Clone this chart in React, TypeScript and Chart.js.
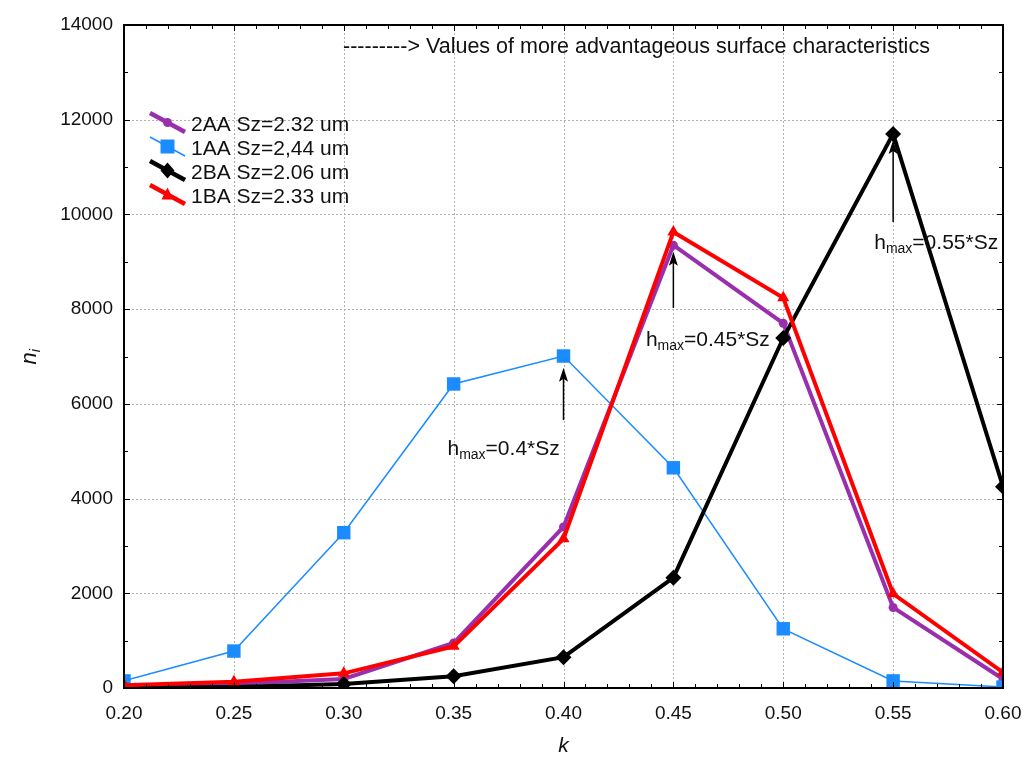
import React, { useEffect, useRef } from 'react';
import { Chart, registerables } from 'chart.js';

Chart.register(...registerables);

// ---- data ----
const kValues = [0.2, 0.25, 0.3, 0.35, 0.4, 0.45, 0.5, 0.55, 0.6];
const s2AA = [50, 90, 190, 950, 3400, 9350, 7700, 1700, 190];
const s1AA = [150, 780, 3280, 6420, 7010, 4650, 1250, 150, 20];
const s2BA = [0, 20, 85, 250, 650, 2330, 7390, 11700, 4250];
const s1BA = [60, 130, 310, 880, 3150, 9630, 8240, 1990, 330];
const seriesLabels = ['2AA Sz=2.32 um', '1AA Sz=2,44 um', '2BA Sz=2.06 um', '1BA Sz=2.33 um'];

const xMin = 0.2, xMax = 0.6, xStep = 0.05, xMinor = 0.01;
const yMin = 0, yMax = 14000, yStep = 2000, yMinor = 1000;

// annotation arrows (data units)
const arrowK = [0.4, 0.45, 0.55];
const arrowTip = [6760, 9210, 11570];
const arrowTail = [5660, 8025, 9840];
const noteK = [0.3472, 0.4375, 0.5414];
const noteN = [5050, 7350, 9400];
const noteRest = ['=0.4*Sz', '=0.45*Sz', '=0.55*Sz'];
const topNote = '---------> Values of more advantageous surface characteristics';

// ---- styles ----
const colors = ['#9a2fae', '#1a8cff', '#000000', '#ff0000'];
const widths = [4, 1.5, 4, 4];
const FONT = '"Liberation Sans", Arial, sans-serif';

function drawMarker(ctx: CanvasRenderingContext2D, idx: number, x: number, y: number) {
  ctx.save();
  ctx.fillStyle = colors[idx];
  ctx.beginPath();
  if (idx === 0) {
    ctx.arc(x, y, 4.5, 0, Math.PI * 2);
  } else if (idx === 1) {
    ctx.rect(x - 7, y - 7, 14, 14);
  } else if (idx === 2) {
    ctx.moveTo(x, y - 8); ctx.lineTo(x + 7, y); ctx.lineTo(x, y + 8); ctx.lineTo(x - 7, y); ctx.closePath();
  } else {
    ctx.moveTo(x, y - 7); ctx.lineTo(x + 6, y + 5); ctx.lineTo(x - 6, y + 5); ctx.closePath();
  }
  ctx.fill();
  ctx.restore();
}

const decorPlugin = {
  id: 'decor',
  beforeDatasetsDraw(chart: any) {
    const { ctx, chartArea: a, scales } = chart;
    const xs = scales.x, ys = scales.y;
    ctx.save();
    ctx.strokeStyle = '#b0b0b0';
    ctx.lineWidth = 1;
    ctx.setLineDash([2, 2]);
    for (let v = xMin + xStep; v < xMax - 1e-9; v += xStep) {
      const px = Math.round(xs.getPixelForValue(v)) + 0.5;
      ctx.beginPath(); ctx.moveTo(px, a.top); ctx.lineTo(px, a.bottom); ctx.stroke();
    }
    for (let v = yMin + yStep; v < yMax - 1e-9; v += yStep) {
      const py = Math.round(ys.getPixelForValue(v)) + 0.5;
      ctx.beginPath(); ctx.moveTo(a.left, py); ctx.lineTo(a.right, py); ctx.stroke();
    }
    ctx.restore();
  },
  afterDatasetsDraw(chart: any) {
    const { ctx, chartArea: a, scales } = chart;
    const xs = scales.x, ys = scales.y;
    ctx.save();
    // frame
    ctx.strokeStyle = '#000';
    ctx.lineWidth = 2;
    ctx.strokeRect(a.left, a.top, a.right - a.left, a.bottom - a.top);
    // inward ticks
    ctx.lineWidth = 1;
    const nx = Math.round((xMax - xMin) / xMinor);
    for (let i = 0; i <= nx; i++) {
      const v = xMin + i * xMinor;
      const major = i % 5 === 0;
      const len = major ? 6 : 4;
      const px = Math.round(xs.getPixelForValue(v)) + 0.5;
      ctx.beginPath();
      ctx.moveTo(px, a.bottom); ctx.lineTo(px, a.bottom - len);
      ctx.moveTo(px, a.top); ctx.lineTo(px, a.top + len);
      ctx.stroke();
    }
    const ny = Math.round((yMax - yMin) / yMinor);
    for (let i = 0; i <= ny; i++) {
      const v = yMin + i * yMinor;
      const major = i % 2 === 0;
      const len = major ? 6 : 4;
      const py = Math.round(ys.getPixelForValue(v)) + 0.5;
      ctx.beginPath();
      ctx.moveTo(a.left, py); ctx.lineTo(a.left + len, py);
      ctx.moveTo(a.right, py); ctx.lineTo(a.right - len, py);
      ctx.stroke();
    }

    // arrows
    ctx.fillStyle = '#000';
    ctx.strokeStyle = '#000';
    ctx.lineWidth = 1.5;
    for (let i = 0; i < arrowK.length; i++) {
      const px = xs.getPixelForValue(arrowK[i]);
      const tip = ys.getPixelForValue(arrowTip[i]);
      const tail = ys.getPixelForValue(arrowTail[i]);
      ctx.beginPath(); ctx.moveTo(px, tail); ctx.lineTo(px, tip + 10); ctx.stroke();
      ctx.beginPath();
      ctx.moveTo(px, tip); ctx.lineTo(px + 4.5, tip + 14); ctx.lineTo(px, tip + 11); ctx.lineTo(px - 4.5, tip + 14);
      ctx.closePath(); ctx.fill();
    }
    // notes
    ctx.textBaseline = 'middle';
    ctx.textAlign = 'left';
    for (let i = 0; i < noteK.length; i++) {
      let px = xs.getPixelForValue(noteK[i]);
      const py = ys.getPixelForValue(noteN[i]);
      ctx.font = `21px ${FONT}`;
      ctx.fillStyle = '#111';
      ctx.fillText('h', px, py);
      px += ctx.measureText('h').width;
      ctx.font = `14px ${FONT}`;
      ctx.fillText('max', px, py + 6);
      px += ctx.measureText('max').width;
      ctx.font = `21px ${FONT}`;
      ctx.fillText(noteRest[i], px, py);
    }
    // top note
    ctx.font = `21.5px ${FONT}`;
    ctx.fillText(topNote, a.left + 219, a.top + 22);

    // legend
    const lx = a.left + 26;
    for (let i = 0; i < seriesLabels.length; i++) {
      const cy = a.top + 99 + i * 24;
      ctx.strokeStyle = colors[i];
      ctx.lineWidth = widths[i] + (i === 1 ? 0 : 0.5);
      ctx.setLineDash([]);
      ctx.beginPath(); ctx.moveTo(lx, cy - 11); ctx.lineTo(lx + 35, cy + 8); ctx.stroke();
      drawMarker(ctx, i, lx + 17.5, cy - 1.5);
      ctx.fillStyle = '#111';
      ctx.font = `21px ${FONT}`;
      ctx.fillText(seriesLabels[i], lx + 41, cy + 1);
    }

    // axis titles
    ctx.save();
    ctx.translate(30, (a.top + a.bottom) / 2 + 8);
    ctx.rotate(-Math.PI / 2);
    ctx.font = `italic 22px ${FONT}`;
    ctx.fillStyle = '#111';
    ctx.textAlign = 'left';
    ctx.fillText('n', 0, 0);
    const w = ctx.measureText('n').width;
    ctx.font = `italic 14px ${FONT}`;
    ctx.fillText('i', w, 6);
    ctx.restore();

    ctx.font = `italic 21px ${FONT}`;
    ctx.textAlign = 'center';
    ctx.fillStyle = '#111';
    ctx.fillText('k', (a.left + a.right) / 2, a.bottom + 58);
    ctx.restore();
  },
};

export default function App() {
  const ref = useRef<HTMLCanvasElement | null>(null);
  useEffect(() => {
    if (!ref.current) return;
    const mk = (d: number[]) => kValues.map((k, i) => ({ x: k, y: d[i] }));
    const chart = new Chart(ref.current, {
      type: 'line',
      data: {
        datasets: [
          { label: seriesLabels[0], data: mk(s2AA), borderColor: colors[0], backgroundColor: colors[0], borderWidth: widths[0], pointStyle: 'circle', pointRadius: 4.5, pointBorderWidth: 0, order: 4 },
          { label: seriesLabels[1], data: mk(s1AA), borderColor: colors[1], backgroundColor: colors[1], borderWidth: widths[1], pointStyle: 'rect', pointRadius: 9.5, pointBorderWidth: 0, order: 3 },
          { label: seriesLabels[2], data: mk(s2BA), borderColor: colors[2], backgroundColor: colors[2], borderWidth: widths[2], pointStyle: 'rectRot', pointRadius: 8, pointBorderWidth: 0, order: 2 },
          { label: seriesLabels[3], data: mk(s1BA), borderColor: colors[3], backgroundColor: colors[3], borderWidth: widths[3], pointStyle: 'triangle', pointRadius: 7, pointBorderWidth: 0, order: 1 },
        ],
      },
      options: {
        animation: false,
        responsive: false,
        devicePixelRatio: 1,
        layout: { padding: { top: 25, right: 31, left: 0, bottom: 0 } },
        elements: { line: { tension: 0 } },
        plugins: { legend: { display: false }, tooltip: { enabled: false } },
        scales: {
          x: {
            type: 'linear', min: xMin, max: xMax,
            grid: { display: false }, border: { display: false },
            ticks: { stepSize: xStep, color: '#111', font: { size: 19, family: FONT }, padding: 6, callback: (v: any) => Number(v).toFixed(2), maxRotation: 0 },
            afterFit: (s: any) => { s.height = 70; },
          },
          y: {
            type: 'linear', min: yMin, max: yMax,
            grid: { display: false }, border: { display: false },
            ticks: { stepSize: yStep, color: '#111', font: { size: 19, family: FONT }, padding: 3, callback: (v: any) => String(Math.round(Number(v))) },
            afterFit: (s: any) => { s.width = 124; },
          },
        },
      },
      plugins: [decorPlugin],
    } as any);
    return () => chart.destroy();
  }, []);
  return (
    <div style={{ position: 'absolute', left: 0, top: 0, width: 1034, height: 758, background: '#fff' }}>
      <canvas ref={ref} width={1034} height={758} />
    </div>
  );
}
